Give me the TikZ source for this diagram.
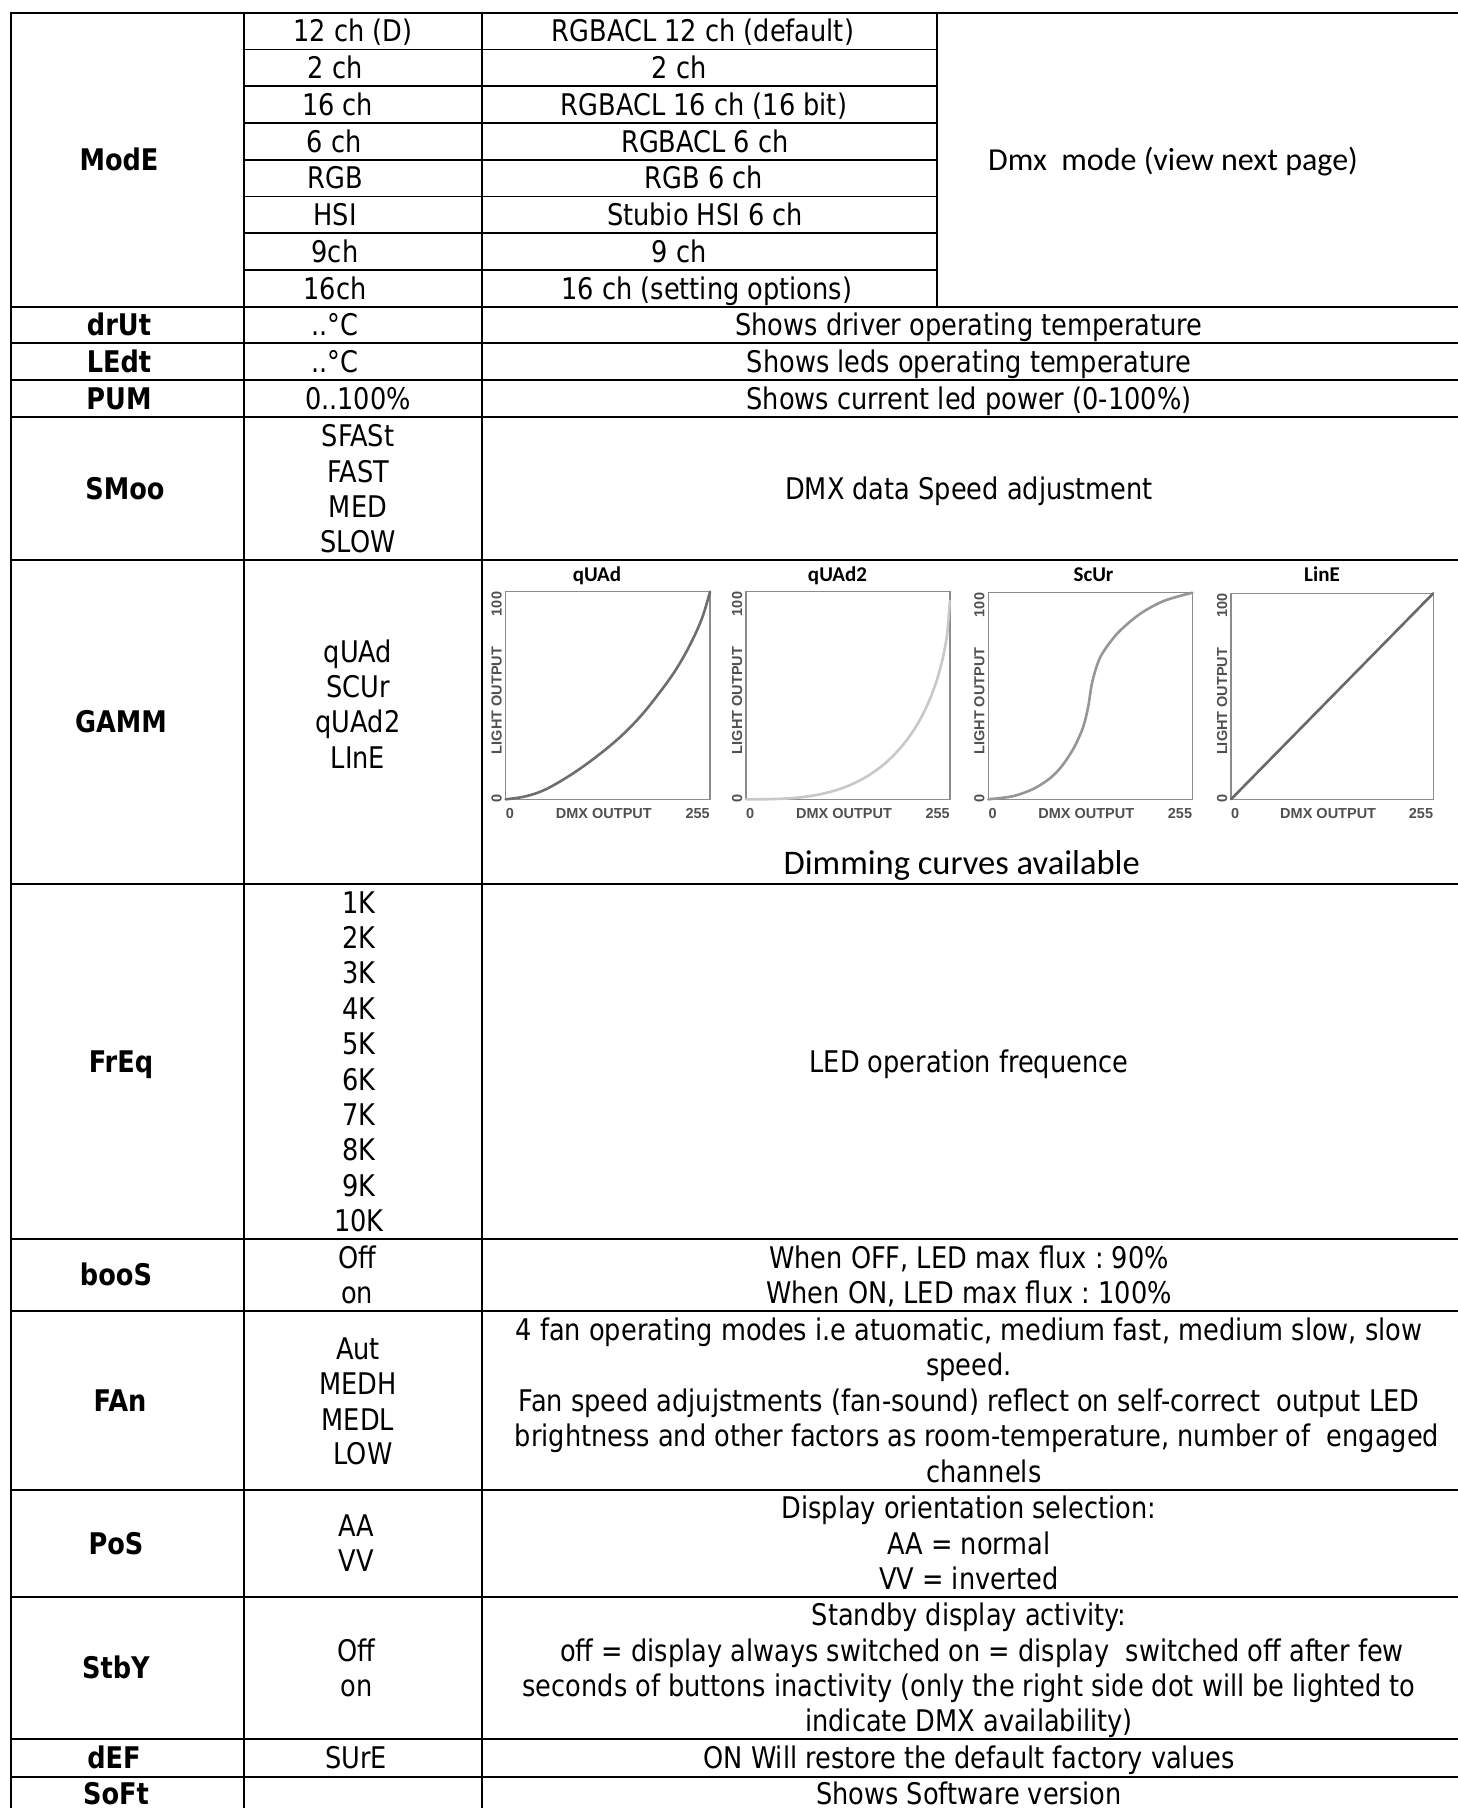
\documentclass[tikz,border=0pt]{standalone}
\usepackage{fontspec}
\setmainfont{DejaVu Sans}[FakeStretch=0.86]
\newfontfamily\calfont{Carlito}
\newfontfamily\arifont{Liberation Sans}
\frenchspacing
\definecolor{axgray}{RGB}{80,80,80}
\definecolor{boxgray}{RGB}{140,140,140}
\definecolor{cquad}{RGB}{110,110,110}
\definecolor{cquadtwo}{RGB}{200,200,200}
\definecolor{cscur}{RGB}{150,150,150}
\definecolor{cline}{RGB}{105,105,105}
\tikzset{
  gridline/.style={line width=1.8pt},
  txt/.style={anchor=base, inner sep=0pt, font=\fontsize{29.8}{35.4}\selectfont},
  key/.style={anchor=base, inner sep=0pt, font=\fontsize{29.8}{35.4}\selectfont\bfseries},
  gtitle/.style={anchor=base, inner sep=0pt, font=\calfont\bfseries\fontsize{21}{24}\selectfont},
  axl/.style={inner sep=0pt, text=axgray, font=\arifont\bfseries\fontsize{14.5}{16}\selectfont},
  gbox/.style={draw=boxgray, line width=1.5pt},
  curve/.style={line width=2.6pt, line join=round, line cap=round},
  caltxt/.style={anchor=base, inner sep=0pt, font=\calfont\fontsize{32}{36}\selectfont},
  dimtxt/.style={anchor=base, inner sep=0pt, font=\calfont\fontsize{34.5}{38}\selectfont},
}
\newcommand\mlines[5]{\foreach \xtxt [count=\i] in {#5} {\node[#4] (#1\i) at (#2,{#3+(\i-1)*35.4}) {\xtxt};}}
\newcommand\axlabels[3]{% name, W, H
  \node[axl, anchor=base west] (#1xa) at (0,19) {0};
  \node[axl, anchor=base] (#1xb) at ({#2/2-4},19) {DMX OUTPUT};
  \node[axl, anchor=base east] (#1xc) at (#2,19) {255};
  \node[axl, anchor=base east, rotate=90] (#1ya) at (-4,-#3) {100};
  \node[axl, anchor=base, rotate=90] (#1yb) at (-4,{-#3/2+5}) {LIGHT OUTPUT};
  \node[axl, anchor=base, rotate=90] (#1yc) at (-4,-1) {0};
}
\begin{document}
\begin{tikzpicture}[x=1pt,y=-1pt]
\useasboundingbox (0,0) rectangle (1458,1808);
\fill[white] (0,0) rectangle (1458,1808);
% ---------- grid ----------
\foreach \yy in {12.7,306.7,342.7,380,416.7,560,884,1239,1310.7,1490,1596.7,1739.3,1776.7}
  \draw[gridline] (11,\yy) -- (1470,\yy);
\foreach \k in {1,...,7}
  \draw[gridline] (243.7,{12.7+\k*36.75}) -- (936.7,{12.7+\k*36.75});
\draw[gridline] (11,11.8) -- (11,1820);
\draw[gridline] (243.7,11.8) -- (243.7,1820);
\draw[gridline] (482,11.8) -- (482,1820);
\draw[gridline] (936.7,11.8) -- (936.7,306.7);
% ---------- column 1 keys ----------
\node[key] (kmode) at (119,170.5) {ModE};
\node[key] (kdrut) at (119,335.55) {drUt};
\node[key] (kledt) at (119,372.2) {LEdt};
\node[key] (kpum) at (119,409.2) {PUM};
\node[key] (ksmoo) at (125,499.2) {SMoo};
\node[key] (kgamm) at (121,732.85) {GAMM};
\node[key] (kfreq) at (121,1072.35) {FrEq};
\node[key] (kboos) at (116,1285.7) {booS};
\node[key] (kfan) at (120,1411.2) {FAn};
\node[key] (kpos) at (116,1554.2) {PoS};
\node[key] (kstby) at (116,1678.85) {StbY};
\node[key] (kdef) at (114,1768.85) {dEF};
\node[key] (ksoft) at (116,1804.5) {SoFt};
% ---------- ModE sub rows ----------
\node[txt] (m1a) at (353,41.9) {12 ch (D)};
\node[txt] (m2a) at (335,78.65) {2 ch};
\node[txt] (m3a) at (337.7,115.4) {16 ch};
\node[txt] (m4a) at (334,152.15) {6 ch};
\node[txt] (m5a) at (335,188.9) {RGB};
\node[txt] (m6a) at (335,225.65) {HSI};
\node[txt] (m7a) at (335,262.4) {9ch};
\node[txt] (m8a) at (335,299.15) {16ch};
\node[txt] (m1b) at (703,41.9) {RGBACL 12 ch (default)};
\node[txt] (m2b) at (679,78.65) {2 ch};
\node[txt] (m3b) at (704,115.4) {RGBACL 16 ch (16 bit)};
\node[txt] (m4b) at (705,152.15) {RGBACL 6 ch};
\node[txt] (m5b) at (704,188.9) {RGB 6 ch};
\node[txt] (m6b) at (705,225.65) {Stubio HSI 6 ch};
\node[txt] (m7b) at (679,262.4) {9 ch};
\node[txt] (m8b) at (706.8,299.15) {16 ch (setting options)};
\node[caltxt] (mdesc) at (1173,170.5) {Dmx~ mode (view next page)};
% ---------- simple rows ----------
\node[txt] (drutv) at (335,335.55) {..°C};
\node[txt] (ledtv) at (335,372.2) {..°C};
\node[txt] (pumv) at (358,409.2) {0..100\%};
\node[txt] (drutd) at (969,335.55) {Shows driver operating temperature};
\node[txt] (ledtd) at (969,372.2) {Shows leds operating temperature};
\node[txt] (pumd) at (969,409.2) {Shows current led power (0-100\%)};
% SMoo
\mlines{smoov}{358}{446.7}{txt}{SFASt,FAST,MED,SLOW}
\node[txt] (smood) at (969,499.2) {DMX data Speed adjustment};
% GAMM
\mlines{gammv}{358}{662}{txt}{qUAd,SCUr,qUAd2,LInE}
\node[dimtxt] (gammd) at (961.7,874) {Dimming curves available};
% graphs
\node[gtitle] (t1) at (597,581.7) {qUAd};
\node[gtitle] (t2) at (837.5,581.7) {qUAd2};
\node[gtitle] (t3) at (1093.5,581.7) {ScUr};
\node[gtitle] (t4) at (1322,581.7) {LinE};
\begin{scope}[shift={(505.7,799.3)}]
  \axlabels{ga}{204.3}{207.6}
  \begin{scope}[x=204.3pt,y=207.6pt]
    \draw[gbox] (0,0) rectangle (1,1);
    \draw[curve, draw=cquad] plot[smooth, tension=0.6] coordinates {(0,0) (0.1,0.015) (0.2,0.05) (0.33,0.125) (0.45,0.21) (0.56,0.30) (0.66,0.40) (0.75,0.51) (0.83,0.62) (0.9,0.74) (0.96,0.87) (1,1)};
  \end{scope}
\end{scope}
\begin{scope}[shift={(746,799.3)}]
  \axlabels{gb}{204}{207.6}
  \begin{scope}[x=204pt,y=207.6pt]
    \draw[gbox] (0,0) rectangle (1,1);
    \draw[curve, draw=cquadtwo] plot[domain=0:1, samples=80, smooth] (\x,{1-sqrt(max(0,1-\x*\x*\x))});
  \end{scope}
\end{scope}
\begin{scope}[shift={(988.3,799.3)}]
  \axlabels{gc}{204}{206.6}
  \begin{scope}[x=204pt,y=206.6pt]
    \draw[gbox] (0,0) rectangle (1,1);
    \draw[curve, draw=cscur] plot[smooth, tension=0.5] coordinates {(0,0) (0.12,0.015) (0.22,0.05) (0.3,0.1) (0.36,0.16) (0.42,0.25) (0.465,0.35) (0.49,0.45) (0.51,0.57) (0.55,0.69) (0.63,0.8) (0.74,0.895) (0.86,0.96) (1,1)};
  \end{scope}
\end{scope}
\begin{scope}[shift={(1231,799.3)}]
  \axlabels{gd}{202.3}{206}
  \begin{scope}[x=202.3pt,y=206pt]
    \draw[gbox] (0,0) rectangle (1,1);
    \draw[curve, draw=cline] (0,0) -- (1,1);
  \end{scope}
\end{scope}
% FrEq
\mlines{freqv}{359}{913.1}{txt}{1K,2K,3K,4K,5K,6K,7K,8K,9K,10K}
\node[txt] (freqd) at (969,1072.35) {LED operation frequence};
% booS
\mlines{boosv}{357}{1268.3}{txt}{Off,on}
\mlines{boosd}{969}{1268.3}{txt}{{When OFF, LED max flux : 90\%},{When ON, LED max flux : 100\%}}
% FAn
\mlines{fanv}{358}{1359.3}{txt}{Aut,MEDH,MEDL}
\node[txt] (fanv4) at (363,1464.3) {LOW};
\mlines{fand}{969}{1340.4}{txt}{{4 fan operating modes i.e atuomatic, medium fast, medium slow, slow},{speed.},{Fan speed adjujstments (fan-sound) reflect on self-correct~ output LED}}
\node[txt] (fand4) at (977,1446.6) {brightness and other factors as room-temperature, number of~ engaged};
\node[txt] (fand5) at (984,1482) {channels};
% PoS
\mlines{posv}{356}{1536.5}{txt}{AA,VV}
\mlines{posd}{969}{1518.8}{txt}{{Display orientation selection:},{AA = normal},{VV = inverted}}
% StbY
\mlines{stbyv}{356.5}{1661.15}{txt}{Off,on}
\node[txt] (stbyd1) at (969,1625.75) {Standby display activity:};
\node[txt] (stbyd2) at (982,1661.15) {off = display always switched on = display~ switched off after few};
\node[txt] (stbyd3) at (969,1696.55) {seconds of buttons inactivity (only the right side dot will be lighted to};
\node[txt] (stbyd4) at (969,1731.95) {indicate DMX availability)};
% dEF
\node[txt] (defv) at (356,1768.85) {SUrE};
\node[txt] (defd) at (969,1768.85) {ON Will restore the default factory values};
% SoFt
\node[txt] (softd) at (969,1804.5) {Shows Software version};
\end{tikzpicture}
\end{document}
